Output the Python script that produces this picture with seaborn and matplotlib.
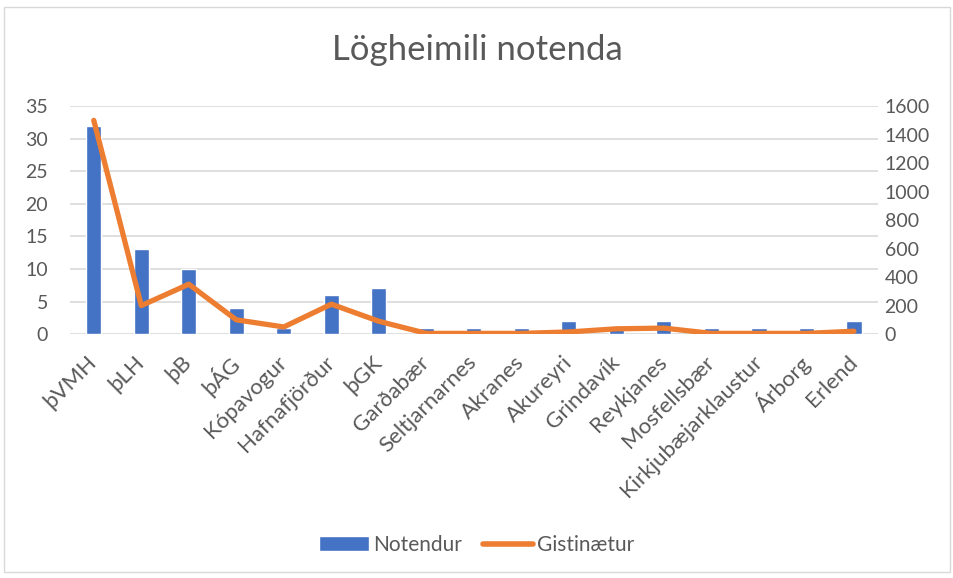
import numpy as np
import pandas as pd
import matplotlib
matplotlib.use('Agg')
import matplotlib.pyplot as plt
import seaborn as sns
from matplotlib.patches import Patch, Rectangle
from matplotlib.lines import Line2D

# data
stadir = ['þVMH', 'þLH', 'þB', 'þÁG', 'Kópavogur', 'Hafnafjörður', 'þGK', 'Garðabær',
          'Seltjarnarnes', 'Akranes', 'Akureyri', 'Grindavík', 'Reykjanes', 'Mosfellsbær',
          'Kirkjubæjarklaustur', 'Árborg', 'Erlend']
notendur = [32, 13, 10, 4, 1, 6, 7, 1, 1, 1, 2, 1, 2, 1, 1, 1, 2]
gistinaetur = [1500, 200, 350, 100, 50, 210, 90, 5, 5, 5, 15, 37, 42, 5, 5, 5, 20]

df = pd.DataFrame({'Staður': stadir, 'Notendur': notendur, 'Gistinætur': gistinaetur})
df['pos'] = np.arange(len(df))

sns.set_style('white')
plt.rcParams['font.family'] = ['Lato', 'DejaVu Sans']
txt = '#595959'
blue = '#4472C4'
orange = '#ED7D31'

fig = plt.figure(figsize=(9.54, 5.78), dpi=100)
ax = fig.add_axes([0.0734, 0.422, 0.8466, 0.3944])

sns.barplot(data=df, x='Staður', y='Notendur', color=blue, width=0.32, saturation=1, ax=ax)
ax.set_ylim(0, 35)
ax.set_yticks(range(0, 36, 5))
ax.set_xlim(-0.5, len(df) - 0.5)
ax.yaxis.grid(True, color='#D9D9D9', linewidth=1.2)
ax.set_axisbelow(True)
ax.set_xlabel('')
ax.set_ylabel('')
ax.set_xticks(df['pos'])
ax.set_xticklabels(stadir, rotation=45, ha='right', va='center', rotation_mode='anchor',
                   fontsize=16, color=txt)
ax.tick_params(axis='y', labelsize=14, labelcolor=txt, length=0, pad=16)
ax.tick_params(axis='x', length=0, pad=18)

ax2 = ax.twinx()
sns.lineplot(data=df, x='pos', y='Gistinætur', color=orange, linewidth=3.8, ax=ax2)
ax2.set_ylim(0, 1600)
ax2.set_yticks(range(0, 1601, 200))
ax2.set_ylabel('')
ax2.set_xlabel('')
ax2.tick_params(axis='y', labelsize=14, labelcolor=txt, length=0, pad=5)
ax.set_xlim(-0.5, len(df) - 0.5)

for a in (ax, ax2):
    for s in a.spines.values():
        s.set_visible(False)

fig.text(0.5, 0.913, 'Lögheimili notenda', ha='center', va='center', fontsize=25, color=txt)

handles = [Patch(facecolor=blue, label='Notendur'),
           Line2D([0], [0], color=orange, linewidth=4, label='Gistinætur')]
fig.legend(handles=handles, loc='center', bbox_to_anchor=(0.5, 0.057), ncol=2, frameon=False,
           fontsize=15, labelcolor=txt, handlelength=2.4, handleheight=0.7,
           columnspacing=1.0, handletextpad=0.2)

fig.patches.append(Rectangle((0.004, 0.01), 0.992, 0.978, transform=fig.transFigure,
                             fill=False, edgecolor='#D9D9D9', linewidth=1))

fig.savefig('out.png', dpi=100)
